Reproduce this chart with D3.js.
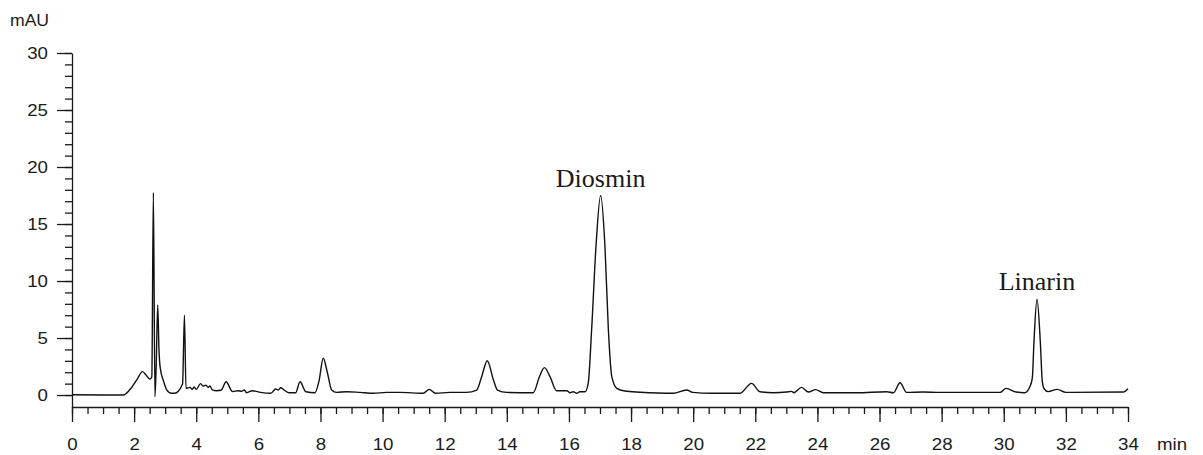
<!DOCTYPE html>
<html>
<head>
<meta charset="utf-8">
<script src="https://cdnjs.cloudflare.com/ajax/libs/d3/7.8.5/d3.min.js"></script>
<style>
  body { margin: 0; background: #fff; }
</style>
</head>
<body>
<div id="chart"></div>
<script>
// retention time (min) and absorbance (mAU)
let times = [0, 1.0, 1.65, 1.9, 2.1, 2.27, 2.4, 2.51, 2.57, 2.62, 2.67, 2.71, 2.76, 2.80, 2.84, 2.95, 3.05, 3.2, 3.3, 3.56, 3.62, 3.67,
  3.80, 3.87, 3.93, 4.0, 4.14, 4.22, 4.31, 4.38, 4.44, 4.52, 4.65, 4.8, 4.96, 5.17, 5.35, 5.45, 5.55, 5.62, 5.81, 6.07, 6.4,
  6.56, 6.64, 6.72, 6.83, 6.99, 7.2, 7.34, 7.53, 7.82, 7.95, 8.09, 8.22, 8.36, 8.52, 8.84, 9.27, 9.7, 10.13, 10.56, 11.31,
  11.5, 11.7, 12.17, 12.7, 13.03, 13.19, 13.37, 13.57, 13.70, 14.0, 14.85, 15.05, 15.21, 15.39, 15.6, 15.93, 16.04, 16.14,
  16.25, 16.35, 16.52, 16.62, 16.73, 16.87, 17.02, 17.16, 17.27, 17.38, 17.54, 17.8, 18.29, 19.36, 19.79, 19.98, 20.6, 21.5,
  21.88, 22.15, 22.58, 23.0, 23.17, 23.24, 23.49, 23.71, 23.94, 24.19, 25.26, 26.23, 26.45, 26.66, 26.87, 27.4, 27.95, 29.56,
  29.88, 30.07, 30.4, 30.67, 30.84, 30.92, 30.97, 31.07, 31.18, 31.24, 31.3, 31.43, 31.72, 32.0, 33.85, 34.0];

let mAU = [0.02, 0, 0, 0.6, 1.4, 2.05, 1.7, 1.4, 1.6, 17.76, -0.15, 2.5, 7.9, 4.0, 2.4, 1.2, 0.45, 0.15, 0.15, 0.97, 7.0, 0.58,
  0.67, 0.5, 0.7, 0.5, 1.0, 0.79, 0.87, 0.67, 0.79, 0.45, 0.38, 0.42, 1.17, 0.3, 0.38, 0.33, 0.44, 0.2, 0.38, 0.23, 0.15,
  0.53, 0.44, 0.64, 0.44, 0.2, 0.2, 1.17, 0.29, 0.2, 1.2, 3.22, 2.0, 0.44, 0.23, 0.29, 0.23, 0.15, 0.23, 0.23, 0.15,
  0.5, 0.15, 0.23, 0.23, 0.44, 1.61, 3.01, 1.32, 0.44, 0.23, 0.2, 1.61, 2.4, 1.61, 0.38, 0.38, 0.2, 0.29,
  0.15, 0.29, 0.29, 1.02, 5.7, 13.0, 17.5, 13.0, 5.7, 1.61, 0.58, 0.35, 0.25, 0.15, 0.44, 0.23, 0.15, 0.15,
  1.02, 0.29, 0.2, 0.26, 0.32, 0.2, 0.67, 0.26, 0.47, 0.2, 0.2, 0.29, 0.2, 1.08, 0.23, 0.26, 0.23, 0.23,
  0.23, 0.58, 0.26, 0.2, 0.73, 1.5, 4.5, 8.4, 4.5, 1.2, 0.55, 0.3, 0.5, 0.23, 0.26, 0.55];

let peakNames = ['Diosmin', 'Linarin'];
let peakTimes = [17.02, 31.07];
let peakHeights = [17.5, 8.4];

let xTicks = d3.range(0, 35, 2);
let yTicks = d3.range(0, 31, 5);

let width = 1203;
let height = 455;
let stretch = 1.1; // the sans labels in the picture are a little wide

let svg = d3.select('#chart')
  .append('svg')
  .attr('width', width)
  .attr('height', height);

let x = d3.scaleLinear().domain([0, 34]).range([72, 1128]);
let y = d3.scaleLinear().domain([-1.05, 30]).range([407, 53]);

let ink = '#1a1a1a';
let sans = "'Liberation Sans', Arial, sans-serif";

// minor ticks first, the axes go over them
svg.append('g')
  .attr('transform', 'translate(0,407)')
  .call(d3.axisBottom(x).tickValues(d3.range(0, 34.01, 0.5)).tickSize(7).tickFormat(''))
  .call(g => g.select('.domain').remove());

svg.append('g')
  .attr('transform', 'translate(72,0)')
  .call(d3.axisLeft(y).tickValues(d3.range(0, 30.01, 1)).tickSize(7).tickFormat(''))
  .call(g => g.select('.domain').remove());

let xAxis = svg.append('g')
  .attr('transform', 'translate(0,407)')
  .call(d3.axisBottom(x).tickValues(xTicks).tickSize(15).tickSizeOuter(0));

let yAxis = svg.append('g')
  .attr('transform', 'translate(72,0)')
  .call(d3.axisLeft(y).tickValues(yTicks).tickSize(15).tickSizeOuter(0));

svg.selectAll('.tick line, .domain')
  .attr('stroke', ink)
  .attr('stroke-width', 1.3);

xAxis.selectAll('text')
  .attr('y', 31)
  .attr('transform', 'scale(' + stretch + ',1)')
  .style('font-family', sans)
  .style('font-size', '17px')
  .attr('fill', ink);

yAxis.selectAll('text')
  .attr('x', -24 / stretch)
  .attr('transform', 'scale(' + stretch + ',1)')
  .style('font-family', sans)
  .style('font-size', '17px')
  .attr('fill', ink);

svg.append('text')
  .attr('transform', 'translate(10,26) scale(' + stretch + ',1)')
  .style('font-family', sans)
  .style('font-size', '16px')
  .attr('fill', ink)
  .text('mAU');

svg.append('text')
  .attr('transform', 'translate(1157,450) scale(' + stretch + ',1)')
  .style('font-family', sans)
  .style('font-size', '17px')
  .attr('fill', ink)
  .text('min');

let points = times.map((t, i) => [t, mAU[i]]);

let line = d3.line()
  .x(d => x(d[0]))
  .y(d => y(d[1]))
  .curve(d3.curveMonotoneX);

svg.append('path')
  .datum(points)
  .attr('d', line)
  .attr('fill', 'none')
  .attr('stroke', '#111')
  .attr('stroke-width', 1.4)
  .attr('stroke-linejoin', 'round');

svg.selectAll('.peak-label')
  .data(peakNames)
  .enter()
  .append('text')
  .attr('class', 'peak-label')
  .attr('x', (d, i) => x(peakTimes[i]))
  .attr('y', (d, i) => y(peakHeights[i]) - 9)
  .attr('text-anchor', 'middle')
  .style('font-family', "'Liberation Serif', 'Times New Roman', serif")
  .style('font-size', '26px')
  .attr('fill', ink)
  .text(d => d);
</script>
</body>
</html>
